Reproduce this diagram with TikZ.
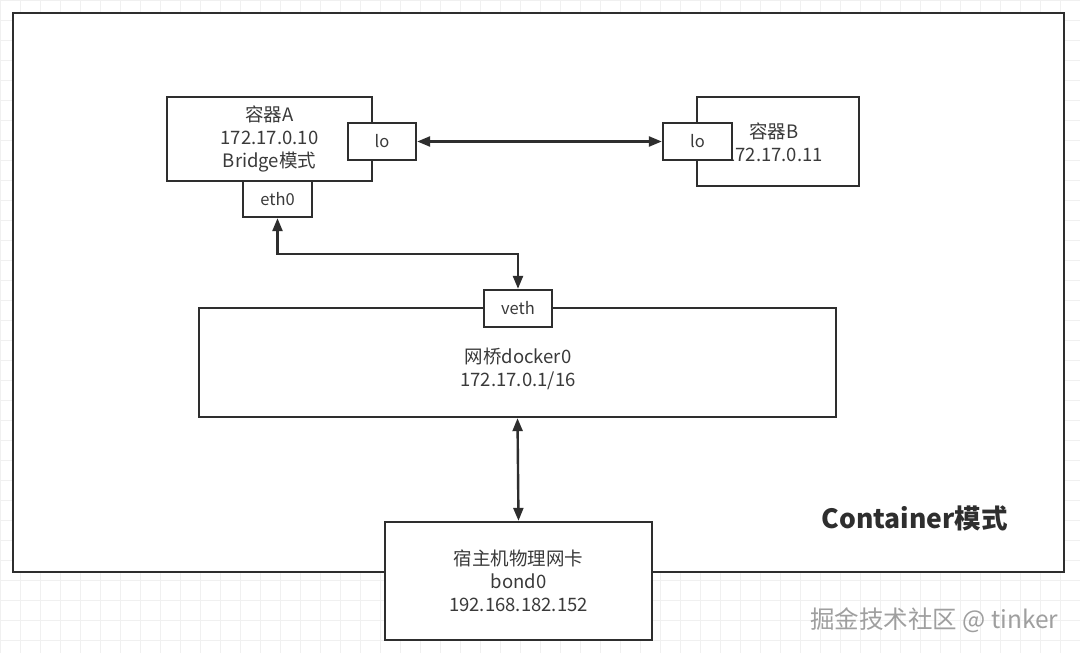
\documentclass[tikz,border=0pt]{standalone}
\usepackage{fontspec}
\setmainfont{Noto Sans CJK SC}
\usetikzlibrary{arrows.meta}
\definecolor{ink}{HTML}{2E2E2E}
\definecolor{txt}{HTML}{3A3A3A}
\tikzset{
  box/.style={draw=ink, line width=2.4pt, fill=white, inner sep=0pt, text=txt, align=center,
    font=\fontsize{18.5}{23}\selectfont},
  port/.style={box, font=\fontsize{16.5}{20}\selectfont},
  lbl/.style={text=txt, align=center, font=\fontsize{18.5}{23}\selectfont},
  link/.style={draw=ink, line width=2.4pt, {Triangle[length=13pt,width=10pt]}-{Triangle[length=13pt,width=10pt]}},
}
\begin{document}
\begin{tikzpicture}[x=1pt,y=-1pt]
\useasboundingbox (0,0) rectangle (1080,653);
\fill[white] (0,0) rectangle (1080,653);
\draw[gray!12, line width=0.6pt, step=20pt] (0,0) grid (1080,653);
% outer container
\node[box, minimum width=1051pt, minimum height=559pt] (outer) at (538.5,292.5) {};
% container A
\node[box, minimum width=205pt, minimum height=84pt] (A) at (269.5,139) {容器A\\172.17.0.10\\Bridge模式};
\node[port, minimum width=68pt, minimum height=37pt] (loA) at (382,141.5) {lo};
\node[port, minimum width=69pt, minimum height=36pt] (eth0) at (277.5,199) {eth0};
% container B
\node[box, minimum width=162pt, minimum height=89pt] (B) at (778,141.5) {};
\node[lbl] (Btxt) at (774,142) {容器B\\172.17.0.11};
\node[port, minimum width=69pt, minimum height=37pt] (loB) at (697.5,141.5) {lo};
% docker0
\node[box, minimum width=637pt, minimum height=109pt] (docker) at (517.5,362.5) {};
\node[lbl] (dockertxt) at (518,368.5) {网桥docker0\\172.17.0.1/16};
\node[port, minimum width=68pt, minimum height=37pt] (veth) at (518,308.5) {veth};
% bond0
\node[box, minimum width=267pt, minimum height=118pt] (bond) at (518.5,581) {宿主机物理网卡\\bond0\\192.168.182.152};
% connectors
\draw[link] (loA.east) -- (loB.west);
\draw[link] (eth0.south) -- ++(0,36) -| (veth.north);
\draw[link] (docker.south) -- (bond.north);
% labels
\node[text=ink, font=\fontsize{26.5}{30}\selectfont\bfseries, anchor=west] (mode) at (818,518) {Container模式};
\node[text=gray!75, font=\fontsize{24.5}{28}\selectfont, anchor=east] (wm) at (1062,620) {掘金技术社区 @ tinker};
\end{tikzpicture}
\end{document}
